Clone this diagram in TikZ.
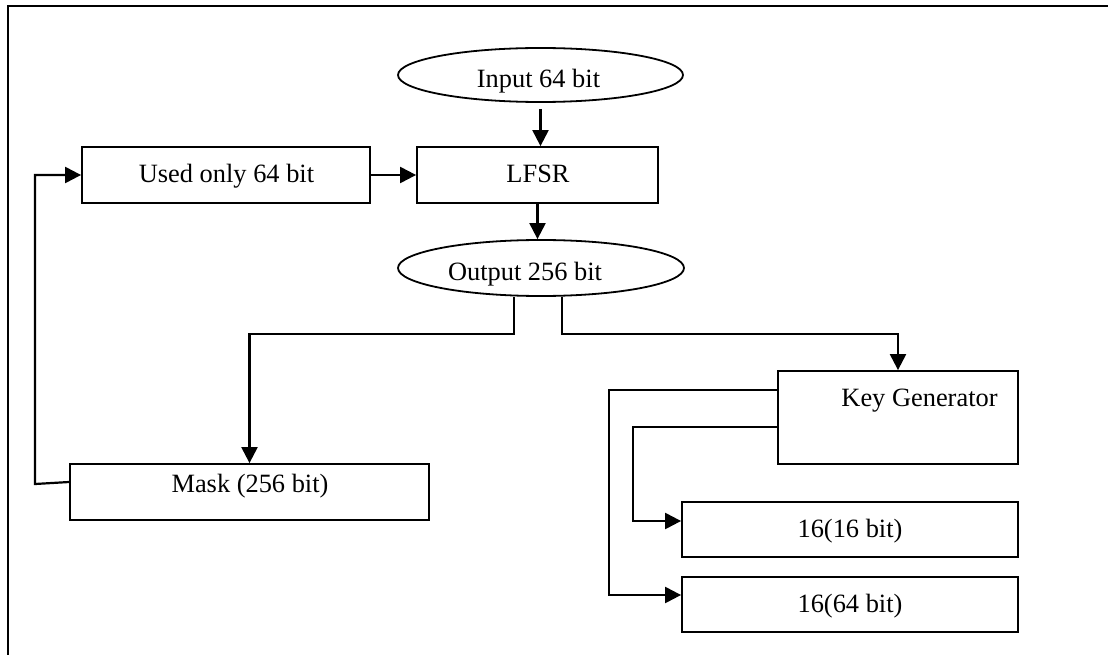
\documentclass[tikz,border=0pt]{standalone}
\usepackage{fontspec}
\setmainfont{Liberation Serif}
\usetikzlibrary{arrows.meta,shapes.geometric}
\begin{document}
\begin{tikzpicture}[x=1pt,y=-1pt,
  line width=2pt,
  box/.style={draw,rectangle,inner sep=0pt,line width=1.8pt},
  oval/.style={draw,ellipse,inner sep=0pt,line width=1.8pt},
  lbl/.style={anchor=base,inner sep=0pt,font=\fontsize{26.4}{30}\selectfont},
  arr/.style={-{Triangle[length=16pt,width=16pt]},line width=2.2pt},
  wire/.style={line width=2pt}]
\useasboundingbox (0,0) rectangle (1108,655);
% frame
\draw[wire] (8,655) -- (8,6.5) -- (1108,6.5);
% shapes
\node[oval,minimum width=285pt,minimum height=54pt] (in) at (540.5,75) {};
\node[box,minimum width=241pt,minimum height=56pt] (lfsr) at (537.5,175) {};
\node[box,minimum width=288pt,minimum height=56pt] (used) at (226,175) {};
\node[oval,minimum width=286pt,minimum height=56pt] (out) at (541,268) {};
\node[box,minimum width=359pt,minimum height=56pt] (mask) at (249.5,492) {};
\node[box,minimum width=240pt,minimum height=93pt] (kg) at (898,417.5) {};
\node[box,minimum width=336pt,minimum height=55pt] (b16) at (850,529.5) {};
\node[box,minimum width=336pt,minimum height=55pt] (b64) at (850,604.5) {};
% texts
\node[lbl] (tin) at (538.5,87.5) {Input 64 bit};
\node[lbl] (tlfsr) at (538,183) {LFSR};
\node[lbl] (tout) at (525,280) {Output 256 bit};
\node[lbl] (tused) at (226.5,183) {Used only 64 bit};
\node[lbl] (tmask) at (250,492) {Mask (256 bit)};
\node[lbl] (tkg) at (919.5,406) {Key Generator};
\node[lbl] (tb16) at (850,537) {16(16 bit)};
\node[lbl] (tb64) at (850,612) {16(64 bit)};
% connectors
\draw[arr,shorten <=6pt] (in.south) -- (in.south |- lfsr.north);
\draw[arr] (lfsr.south) -- (lfsr.south |- out.north);
\draw[arr] (used.east) -- (lfsr.west);
\draw[arr] ([xshift=-27pt]out.south) -- ++(0,37) -| (mask.north);
\draw[arr] ([xshift=21pt]out.south) -- ++(0,37) -| (kg.north);
\draw[arr] ([yshift=27.5pt]kg.west) -- ++(-168,0) |- ([yshift=9.5pt]b64.west);
\draw[arr] ([yshift=-9.5pt]kg.west) -- ++(-144,0) |- ([yshift=8.5pt]b16.west);
\draw[arr] ([yshift=10pt]mask.west) -- (35,484) |- (used.west);
\end{tikzpicture}
\end{document}
